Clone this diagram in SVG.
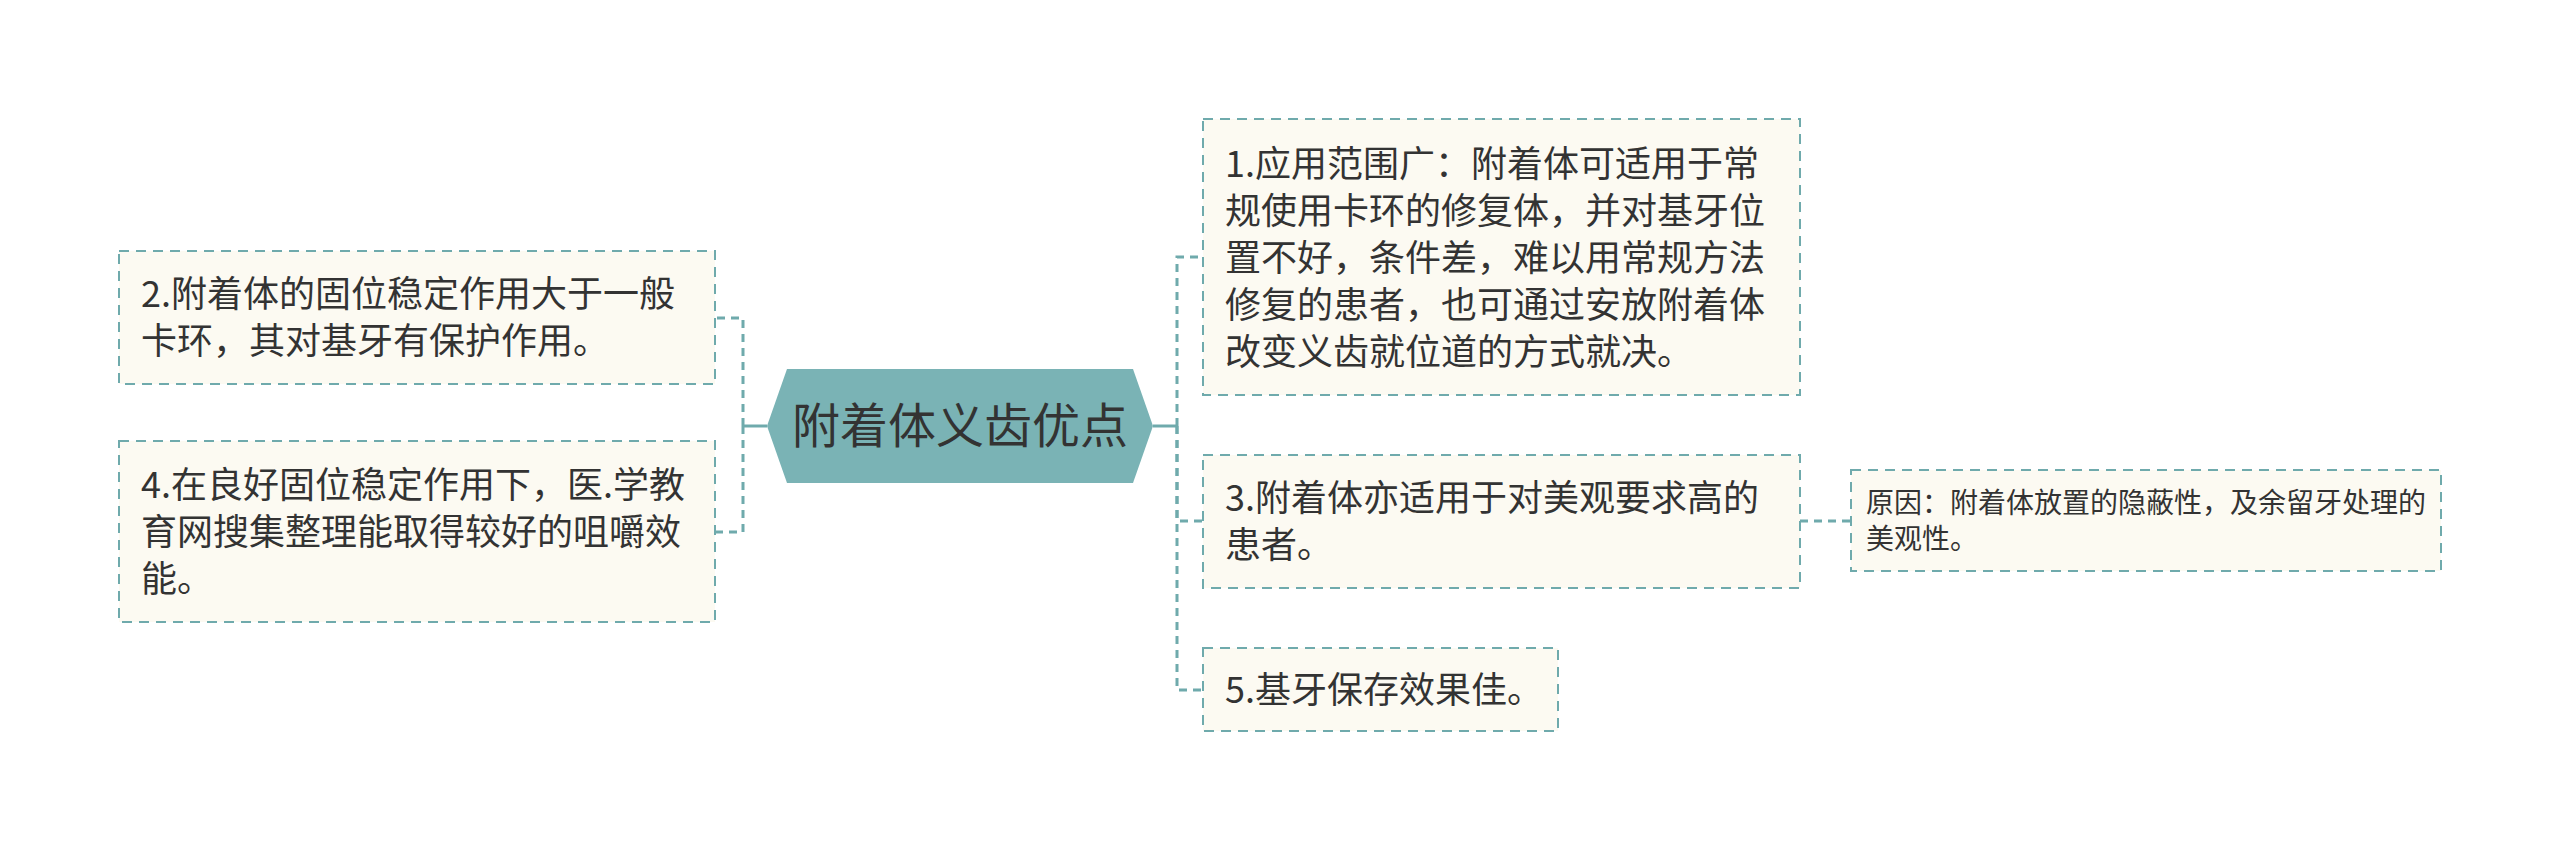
<svg xmlns="http://www.w3.org/2000/svg" width="2560" height="852" viewBox="0 0 2560 852">
<style>
.box{fill:#fcfaf2;stroke:#6faaac;stroke-width:2;stroke-dasharray:10 7}
.conn{fill:none;stroke:#6faaac;stroke-width:3;stroke-dasharray:8 6}
.solid{fill:none;stroke:#6faaac;stroke-width:3}
.t{font-family:"Noto Sans CJK SC","Noto Sans",sans-serif;fill:#333333;font-size:36px}
.s{font-family:"Noto Sans CJK SC","Noto Sans",sans-serif;fill:#333333;font-size:28px}
.c{font-family:"Noto Sans CJK SC","Noto Sans",sans-serif;fill:#333333;font-size:48px}
</style>
<rect width="2560" height="852" fill="#ffffff"/>
<g id="connectors">
<path class="solid" d="M767 426 H743"/>
<path class="conn" d="M743 426 V318 H715"/>
<path class="conn" d="M743 426 V532 H715"/>
<path class="solid" d="M1153 426 H1177"/>
<path class="conn" d="M1177 426 V257 H1203"/>
<path class="conn" d="M1177 426 V521 H1203"/>
<path class="conn" d="M1177 426 V690 H1203"/>
<path class="conn" d="M1800 521 H1851"/>
</g>
<g id="root">
<polygon points="767,426 787,369 1133,369 1153,426 1133,483 787,483" fill="#7ab3b5"/>
<text class="c" x="960" y="443" text-anchor="middle">附着体义齿优点</text>
</g>
<g id="node2">
<rect class="box" x="119" y="251" width="596" height="133"/>
<text class="t" x="141" y="307">2.附着体的固位稳定作用大于一般</text>
<text class="t" x="141" y="354">卡环，其对基牙有保护作用。</text>
</g>
<g id="node4">
<rect class="box" x="119" y="441" width="596" height="181"/>
<text class="t" x="141" y="498">4.在良好固位稳定作用下，医.学教</text>
<text class="t" x="141" y="545">育网搜集整理能取得较好的咀嚼效</text>
<text class="t" x="141" y="592">能。</text>
</g>
<g id="node1">
<rect class="box" x="1203" y="119" width="597" height="276"/>
<text class="t" x="1225" y="177">1.应用范围广：附着体可适用于常</text>
<text class="t" x="1225" y="224">规使用卡环的修复体，并对基牙位</text>
<text class="t" x="1225" y="271">置不好，条件差，难以用常规方法</text>
<text class="t" x="1225" y="318">修复的患者，也可通过安放附着体</text>
<text class="t" x="1225" y="365">改变义齿就位道的方式就决。</text>
</g>
<g id="node3">
<rect class="box" x="1203" y="455" width="597" height="133"/>
<text class="t" x="1225" y="511">3.附着体亦适用于对美观要求高的</text>
<text class="t" x="1225" y="558">患者。</text>
</g>
<g id="node5">
<rect class="box" x="1203" y="648" width="355" height="83"/>
<text class="t" x="1225" y="703">5.基牙保存效果佳。</text>
</g>
<g id="node3a">
<rect class="box" x="1851" y="470" width="590" height="101"/>
<text class="s" x="1866" y="513">原因：附着体放置的隐蔽性，及余留牙处理的</text>
<text class="s" x="1866" y="549">美观性。</text>
</g>
</svg>
